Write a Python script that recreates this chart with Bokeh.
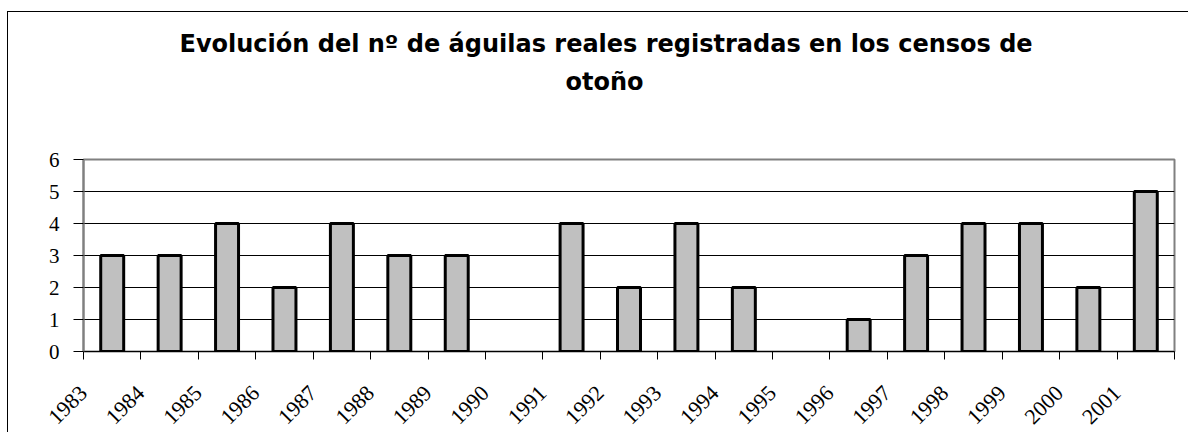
import math
from bokeh.plotting import figure
from bokeh.models import Range1d, FixedTicker, Title, ColumnDataSource
from bokeh.embed import file_html
from bokeh.resources import INLINE

years = ["1983", "1984", "1985", "1986", "1987", "1988", "1989", "1990", "1991", "1992",
         "1993", "1994", "1995", "1996", "1997", "1998", "1999", "2000", "2001"]
counts = [3, 3, 4, 2, 4, 3, 3, 0, 4, 2, 4, 2, 0, 1, 3, 4, 4, 2, 5]
y_ticks = [0, 1, 2, 3, 4, 5, 6]
title_line1 = "Evolución del nº de águilas reales registradas en los censos de"
title_line2 = "otoño"

SERIF = "'Liberation Serif', 'Times New Roman', serif"
SANS = "'DejaVu Sans', sans-serif"

n = len(years)
src = ColumnDataSource(dict(
    x=[i + 0.5 for i in range(n)],
    top=counts,
    lalpha=[1.0 if c > 0 else 0.0 for c in counts],
))

p = figure(width=1181, height=421, output_backend="svg", toolbar_location=None,
           x_range=Range1d(0, n), y_range=Range1d(0, 6),
           min_border_left=75, min_border_right=15, min_border_bottom=82, min_border_top=147)
p.styles = {"border-left": "1.5px solid black", "border-top": "1.5px solid black",
            "margin-left": "7px", "margin-top": "11px"}

p.title.visible = False
title_style = dict(text_font=SANS, text_font_style="bold", text_font_size="24px", text_color="black")
spacer = Title(text=" ", align="left", standoff=70, **title_style)
t2 = Title(text=title_line2, align="left", offset=482, standoff=-73, **title_style)
t1 = Title(text=title_line1, align="left", offset=96, standoff=3, **title_style)
p.add_layout(spacer, "above")
p.add_layout(t2, "above")
p.add_layout(t1, "above")

p.vbar(x="x", top="top", width=0.4, bottom=0, source=src, fill_color="#C0C0C0",
       line_color="black", line_width=3, line_alpha="lalpha")

p.outline_line_color = "#808080"
p.outline_line_width = 2
p.background_fill_color = "white"
p.border_fill_color = "white"

p.xgrid.visible = False
p.ygrid.ticker = FixedTicker(ticks=y_ticks)
p.ygrid.grid_line_color = "black"
p.ygrid.grid_line_width = 1

xa = p.xaxis[0]
xa.ticker = FixedTicker(ticks=list(range(n + 1)))
overrides = {i: years[i] for i in range(n)}
overrides[n] = ""
xa.major_label_overrides = overrides
xa.major_label_orientation = math.pi / 4
xa.major_label_text_font = SERIF
xa.major_label_text_font_size = "22px"
xa.major_label_text_color = "black"
xa.major_label_standoff = 30
xa.axis_line_color = "black"
xa.axis_line_width = 1
xa.major_tick_out = 8
xa.major_tick_in = 0
xa.major_tick_line_color = "black"
xa.minor_tick_line_color = None

ya = p.yaxis[0]
ya.ticker = FixedTicker(ticks=y_ticks)
ya.major_label_text_font = SERIF
ya.major_label_text_font_size = "21px"
ya.major_label_text_color = "black"
ya.major_label_standoff = 14
ya.axis_line_color = "#808080"
ya.axis_line_width = 2
ya.major_tick_out = 10
ya.major_tick_in = 0
ya.major_tick_line_color = "black"
ya.minor_tick_line_color = None

open("out.html", "w").write(file_html(p, INLINE))
